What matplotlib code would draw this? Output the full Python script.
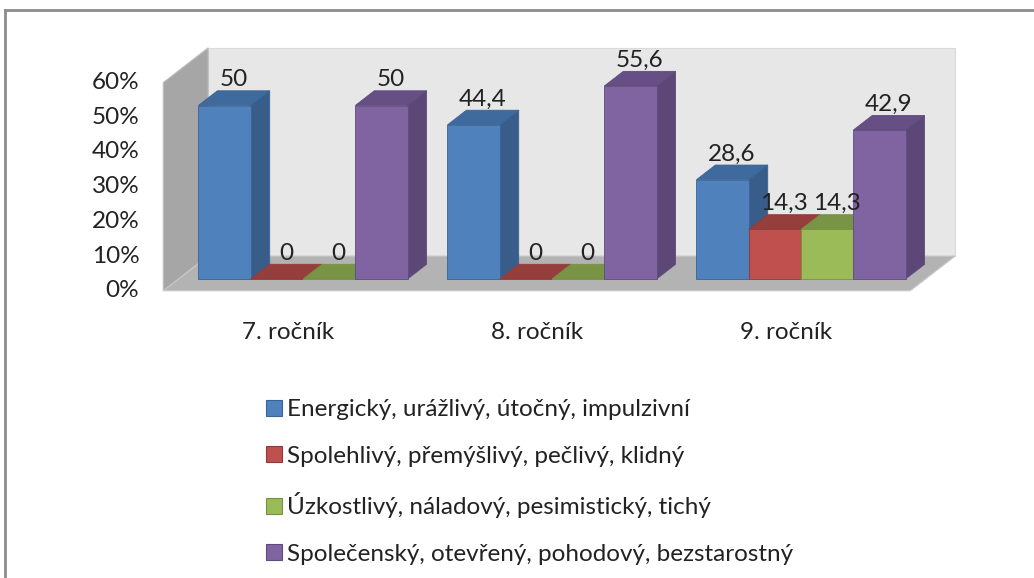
import matplotlib
matplotlib.use('Agg')
import matplotlib.pyplot as plt
from matplotlib.patches import Polygon, Patch
from matplotlib.lines import Line2D

plt.rcParams['font.family'] = ['Lato', 'DejaVu Sans']

# data
categories = ['7. ročník', '8. ročník', '9. ročník']
series_names = ['Energický, urážlivý, útočný, impulzivní',
                'Spolehlivý, přemýšlivý, pečlivý, klidný',
                'Úzkostlivý, náladový, pesimistický, tichý',
                'Společenský, otevřený, pohodový, bezstarostný']
energicky = [50, 44.4, 28.6]
spolehlivy = [0, 0, 14.3]
uzkostlivy = [0, 0, 14.3]
spolecensky = [50, 55.6, 42.9]
yticks = [0, 10, 20, 30, 40, 50, 60]

series = [energicky, spolehlivy, uzkostlivy, spolecensky]
# front, side, top colours for the fake 3D look
front_cols = ['#4F81BD', '#C0504D', '#9BBB59', '#8064A2']
side_cols = ['#385D8A', '#8C3A38', '#71893F', '#5C4776']
top_cols = ['#3F6A9E', '#963E3C', '#7A9446', '#664F84']
edge_cols = ['#3A6396', '#8F3B39', '#779143', '#604B7E']
fs = 17.5

W, H = 1034, 578
fig = plt.figure(figsize=(W / 100, H / 100), dpi=100)

# axes placed so that 1 category = 249 px and 1 % = 3.47 px
x0_px, x_scale = 303, 249
y0_px, y_scale = 279, 3.47
xlim = (-1.2, 2.9)
ylim = (-20, 78)
left = x0_px + x_scale * xlim[0]
right = x0_px + x_scale * xlim[1]
top = y0_px - y_scale * ylim[1]
bottom = y0_px - y_scale * ylim[0]
ax = fig.add_axes([left / W, (H - bottom) / H, (right - left) / W, (bottom - top) / H])
ax.set_xlim(*xlim)
ax.set_ylim(*ylim)
ax.axis('off')

# oblique depth vector (per bar depth) in data units
ddx, ddy = 19 / x_scale, 14.7 / y_scale
d_front, d_back = -0.8, 1.56
xL, xR = -0.5, 2.5
wall_h = 60


def pt(x, v, d):
    return (x + d * ddx, v + d * ddy)


# walls and floor
ax.add_patch(Polygon([pt(xL, 0, d_back), pt(xR, 0, d_back), pt(xR, wall_h, d_back), pt(xL, wall_h, d_back)],
                     closed=True, facecolor='#E7E7E7', edgecolor='#DADADA', lw=0.8, zorder=1))
ax.add_patch(Polygon([pt(xL, 0, d_front), pt(xL, 0, d_back), pt(xL, wall_h, d_back), pt(xL, wall_h, d_front)],
                     closed=True, facecolor='#A6A6A6', edgecolor='#BDBDBD', lw=0.8, zorder=2))
ax.add_patch(Polygon([pt(xL, 0, d_front), pt(xR, 0, d_front), pt(xR, 0, d_back), pt(xL, 0, d_back)],
                     closed=True, facecolor='#B3B3B3', edgecolor='#C8C8C8', lw=0.8, zorder=2))

# bars
w = 0.21
n = len(series)
z = 3
for gi in range(len(categories)):
    for si in range(n):
        v = series[si][gi]
        xc = gi + (si - (n - 1) / 2) * w
        xa, xb = xc - w / 2, xc + w / 2
        ax.add_patch(Polygon([pt(xb, 0, 0), pt(xb, 0, 1), pt(xb, v, 1), pt(xb, v, 0)],
                             closed=True, facecolor=side_cols[si], edgecolor=edge_cols[si], lw=0.6, zorder=z))
        ax.add_patch(Polygon([pt(xa, v, 0), pt(xb, v, 0), pt(xb, v, 1), pt(xa, v, 1)],
                             closed=True, facecolor=top_cols[si], edgecolor=edge_cols[si], lw=0.6, zorder=z))
        ax.bar(xc, v, width=w, color=front_cols[si], edgecolor=edge_cols[si], lw=0.6, zorder=z + 0.5)
        z += 1

# value labels
for gi in range(len(categories)):
    for si in range(n):
        v = series[si][gi]
        xc = gi + (si - (n - 1) / 2) * w
        lx, ly = pt(xc, v, 1)
        ax.text(lx - 0.5 * ddx, ly + 0.2, f'{v:g}'.replace('.', ','), ha='center', va='bottom',
                fontsize=fs, color='#222222', zorder=50)

# y axis labels on the front edge of the side wall
for t in yticks:
    tx, ty = pt(xL, t, d_front)
    ax.text(tx - 24 / x_scale, ty, f'{t}%', ha='right', va='center', fontsize=fs, color='#222222')

# category labels
for gi, c in enumerate(categories):
    cx, cy = pt(gi, 0, d_front)
    ax.text(cx, cy - 42 / y_scale, c, ha='center', va='center', fontsize=fs, color='#222222')

# legend
handles = [Patch(facecolor=front_cols[i], edgecolor=edge_cols[i], lw=0.8) for i in range(n)]
fig.legend(handles, series_names, loc='upper left', bbox_to_anchor=(254 / W, 1 - 387 / H),
           frameon=False, fontsize=fs, handlelength=0.65, handleheight=0.65, handletextpad=0.2,
           labelspacing=1.05, borderpad=0, labelcolor='#222222')

# outer frame (top and left edges visible)
fig.add_artist(Line2D([5 / W, 5 / W], [0, 1 - 10 / H], color='#8C8C8C', lw=2))
fig.add_artist(Line2D([5 / W, 1], [1 - 10 / H, 1 - 10 / H], color='#8C8C8C', lw=2))

fig.savefig('out.png', dpi=100)
